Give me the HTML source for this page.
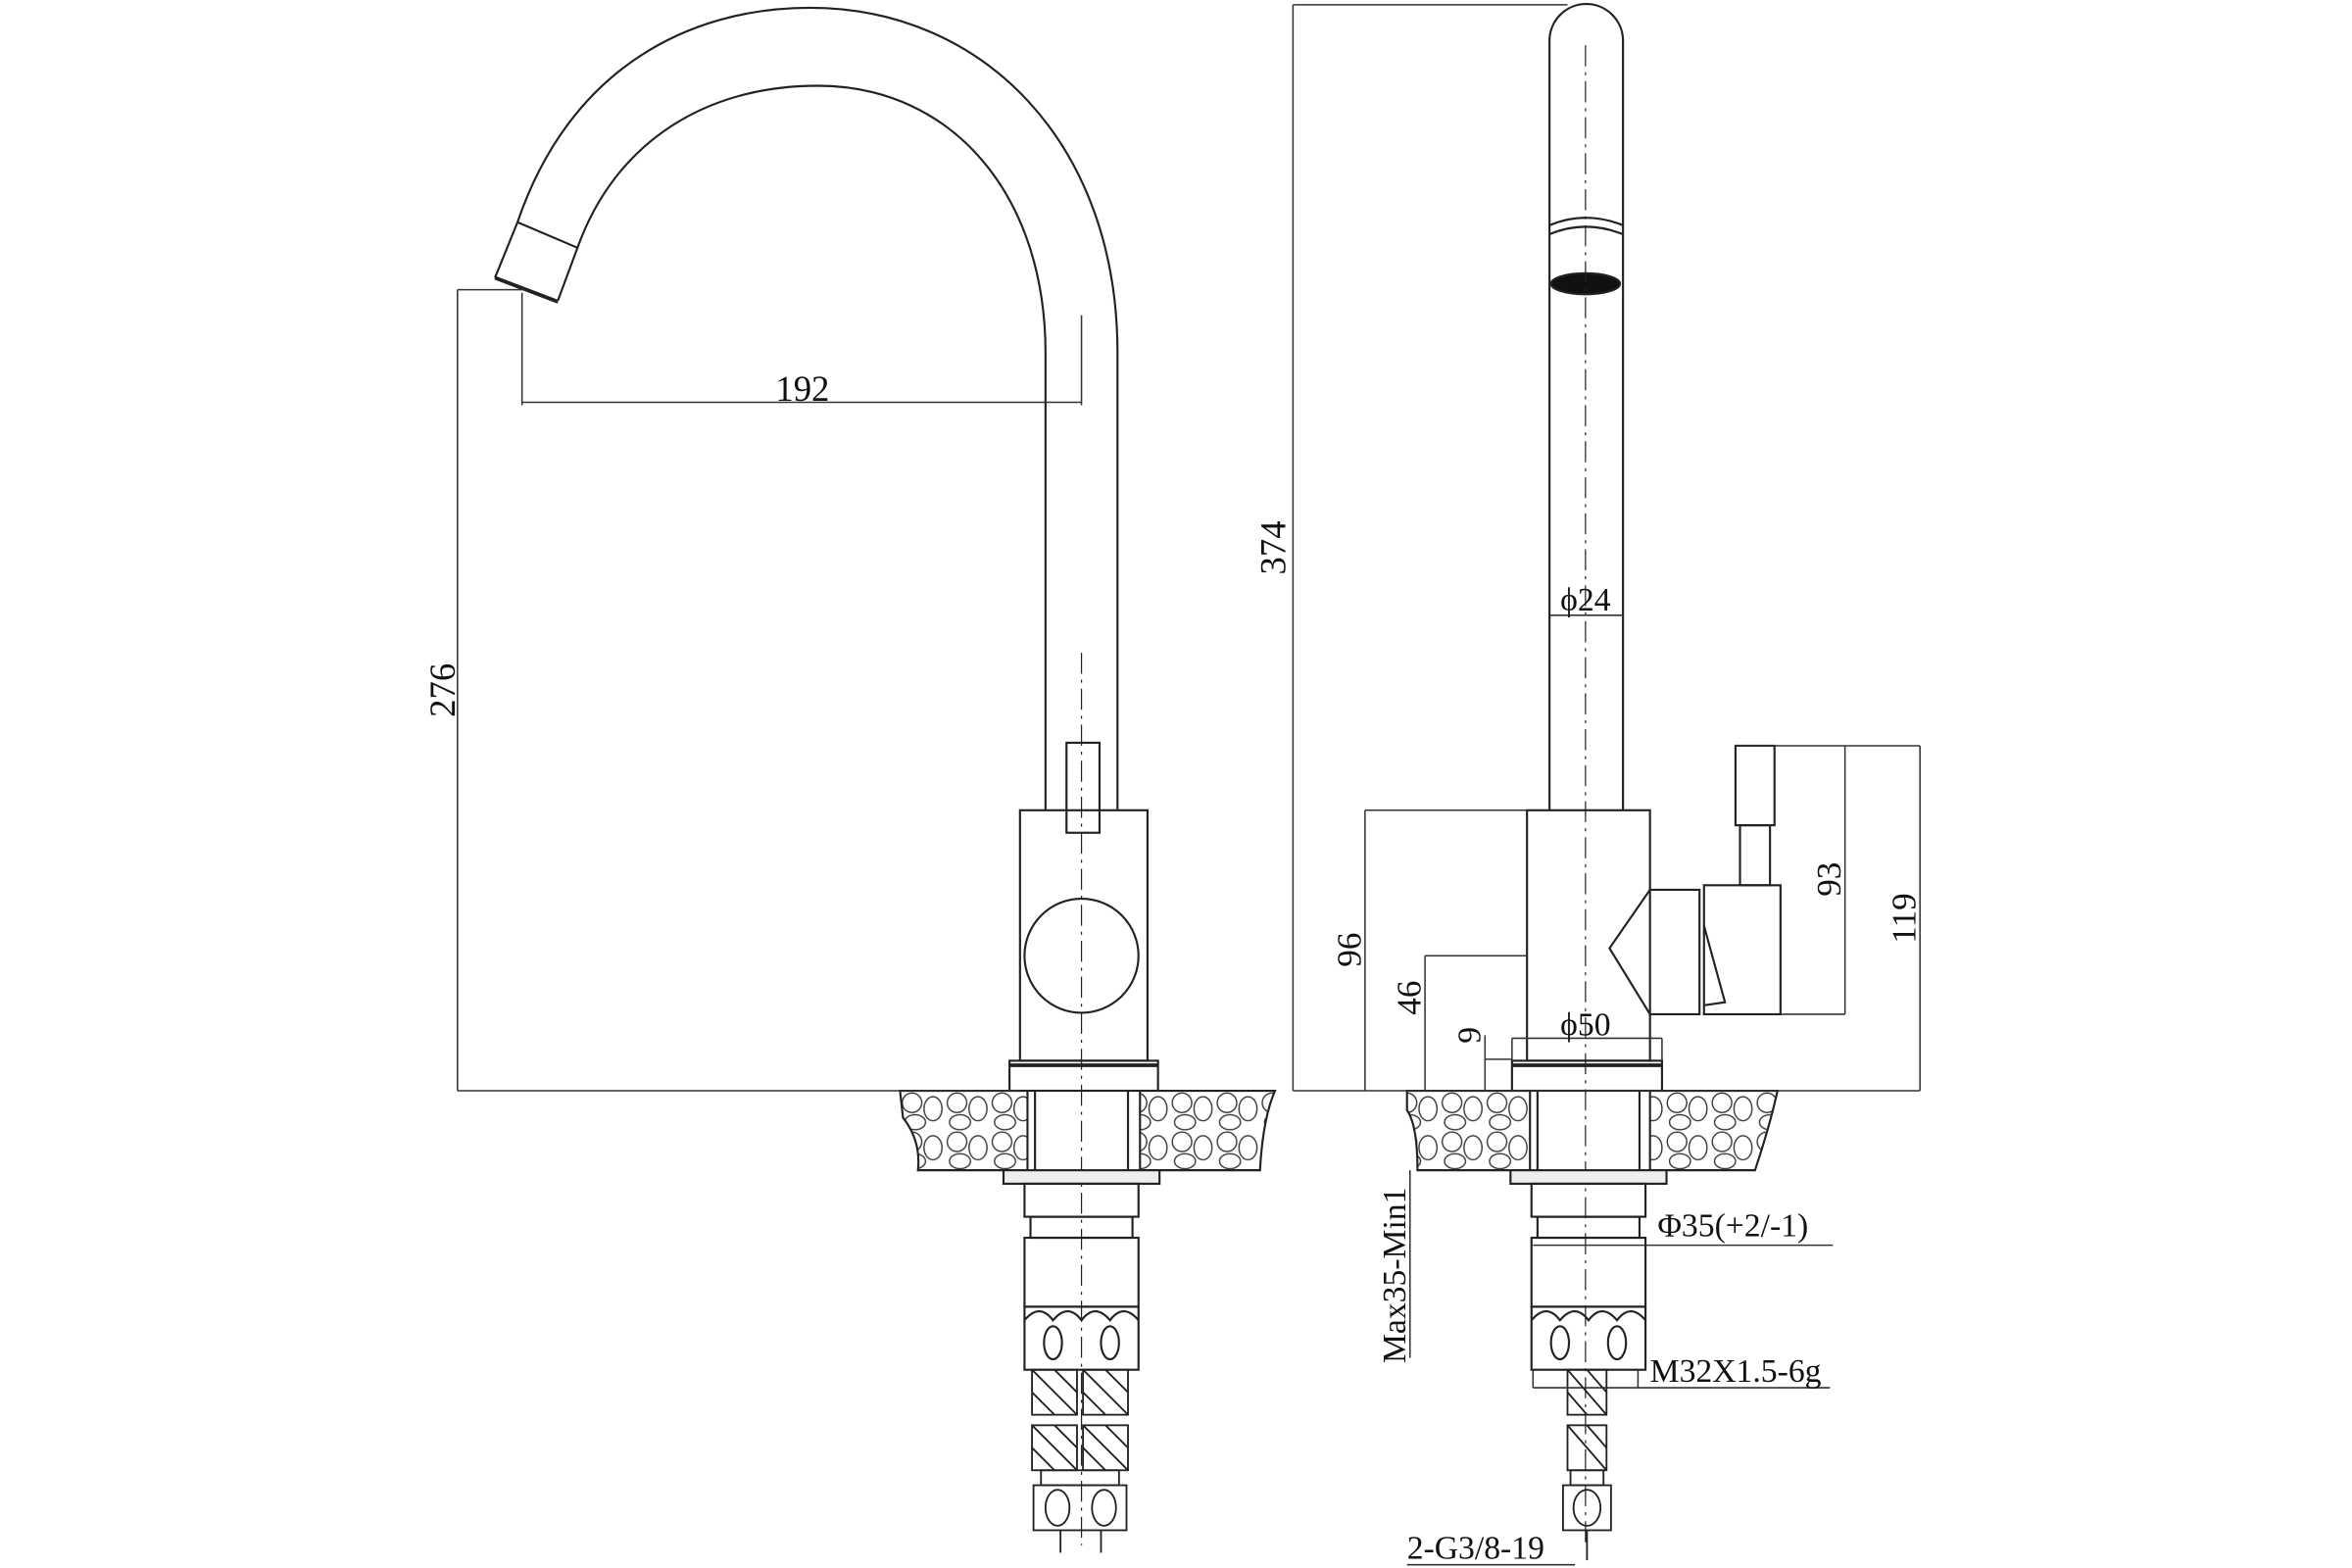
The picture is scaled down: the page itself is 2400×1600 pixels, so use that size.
<!DOCTYPE html>
<html><head><meta charset="utf-8"><style>
html,body{margin:0;padding:0;background:#fff;}
svg{display:block;}
text{font-family:"Liberation Serif",serif;fill:#111;}
</style></head><body>
<svg width="2400" height="1600" viewBox="0 0 1568 1045" xmlns="http://www.w3.org/2000/svg">
<defs>
<pattern id="stone" width="30" height="26" patternUnits="userSpaceOnUse">
<rect width="30" height="26" fill="#fff"/>
<ellipse cx="8" cy="7" rx="6.5" ry="6.5" fill="none" stroke="#333" stroke-width="0.9"/>
<ellipse cx="22" cy="11" rx="6" ry="8" fill="none" stroke="#333" stroke-width="0.9"/>
<ellipse cx="10" cy="20" rx="7" ry="5" fill="none" stroke="#333" stroke-width="0.9"/>
</pattern>
<g id="lower" fill="none" stroke="#222" stroke-width="1.4">
<rect x="-52" y="780" width="104" height="9" fill="#eee"/>
<rect x="-38" y="789" width="76" height="22"/>
<rect x="-34" y="811" width="68" height="14"/>
<rect x="-38" y="825" width="76" height="46"/>
<rect x="-38" y="871" width="76" height="42"/>
<path d="M-38 880 Q-28 868 -19 880 Q-9 868 0 880 Q9 868 19 880 Q28 868 38 880"/>
<ellipse cx="-19" cy="895" rx="6" ry="11"/>
<ellipse cx="19" cy="895" rx="6" ry="11"/>
</g>
</defs>

<g fill="none" stroke="#222" stroke-width="1.4">
<path d="M330 185 L345 148 C380 45 460 5 540 5 C655 5 745 95 745 235 L745 540"/>
<path d="M372 200 L385 165 C410 95 470 57 545 57 C635 57 697 130 697 235 L697 540"/>
<path d="M345 148 L385 165"/>
<path d="M330 185 L372 201" stroke-width="2.5"/>
<rect x="680" y="540" width="85" height="167"/>
<rect x="711" y="495" width="22" height="60"/>
<circle cx="721" cy="637" r="38"/>
<rect x="673" y="707" width="99" height="20"/>
<line x1="673" y1="710" x2="772" y2="710" stroke-width="2.5"/>
<line x1="721" y1="435" x2="721" y2="1030" stroke-width="0.8" stroke-dasharray="14 4 2 4"/>
<path d="M600 727 L685 727 L685 780 L612 780 Q614 760 602 745 Z" fill="url(#stone)"/>
<path d="M760 727 L850 727 Q842 745 840 780 L760 780 Z" fill="url(#stone)"/>
<line x1="690" y1="727" x2="690" y2="780"/><line x1="752" y1="727" x2="752" y2="780"/>
<g stroke-width="1.2">
<rect x="688" y="913" width="30" height="30"/><rect x="722" y="913" width="30" height="30"/>
<rect x="688" y="950" width="30" height="30"/><rect x="722" y="950" width="30" height="30"/>
<path d="M688 913 L718 943 M703 913 L718 928 M688 928 L703 943 M722 913 L752 943 M737 913 L752 928 M722 928 L737 943"/>
<path d="M688 950 L718 980 M703 950 L718 965 M688 965 L703 980 M722 950 L752 980 M737 950 L752 965 M722 965 L737 980"/>
<rect x="694" y="980" width="52" height="10"/>
<rect x="689" y="990" width="62" height="30"/>
<ellipse cx="705" cy="1005" rx="8" ry="12"/><ellipse cx="736" cy="1005" rx="8" ry="12"/>
<line x1="707" y1="1020" x2="707" y2="1035"/><line x1="734" y1="1020" x2="734" y2="1035"/>
</g>
</g>
<use href="#lower" x="721" y="0"/>

<g fill="none" stroke="#333" stroke-width="1">
<line x1="305" y1="193" x2="350" y2="193"/>
<line x1="305" y1="193" x2="305" y2="727"/>
<line x1="305" y1="727" x2="680" y2="727"/>
<line x1="348" y1="195" x2="348" y2="270"/>
<line x1="721" y1="210" x2="721" y2="270"/>
<line x1="348" y1="268" x2="721" y2="268"/>
</g>
<text x="535" y="267" font-size="24" text-anchor="middle">192</text>
<text transform="translate(303,460) rotate(-90)" font-size="24" text-anchor="middle">276</text>

<g fill="none" stroke="#222" stroke-width="1.4">
<path d="M1033 540 L1033 27 A24.5 24.5 0 0 1 1082 27 L1082 540"/>
<path d="M1033 150 Q1057 140 1082 150"/>
<path d="M1033 156 Q1057 146 1082 156"/>
<ellipse cx="1057" cy="189" rx="23" ry="7" fill="#111"/>
<line x1="1057" y1="30" x2="1057" y2="1030" stroke-width="0.8" stroke-dasharray="14 4 2 4"/>
<rect x="1018" y="540" width="82" height="167"/>
<path d="M1100 593 L1133 593 L1133 676 L1100 676 L1073 632 Z"/>
<rect x="1136" y="590" width="51" height="86" fill="#fff"/>
<path d="M1136 617 L1150 668 L1136 670"/>
<rect x="1157" y="497" width="26" height="53"/>
<rect x="1160" y="550" width="20" height="40"/>
<rect x="1008" y="707" width="100" height="20"/>
<line x1="1008" y1="710" x2="1108" y2="710" stroke-width="2.5"/>
<path d="M938 727 L1020 727 L1020 780 L945 780 Q945 750 938 740 Z" fill="url(#stone)"/>
<path d="M1100 727 L1185 727 Q1180 750 1170 780 L1100 780 Z" fill="url(#stone)"/>
<line x1="1025" y1="727" x2="1025" y2="780"/><line x1="1093" y1="727" x2="1093" y2="780"/>
<g stroke-width="1.2">
<rect x="1045" y="913" width="26" height="30"/>
<rect x="1045" y="950" width="26" height="30"/>
<path d="M1045 913 L1071 943 M1058 913 L1071 928 M1045 928 L1058 943 M1045 950 L1071 980 M1058 950 L1071 965"/>
<rect x="1047" y="980" width="22" height="10"/>
<rect x="1042" y="990" width="32" height="30"/>
<ellipse cx="1058" cy="1005" rx="9" ry="12"/>
<line x1="1058" y1="1020" x2="1058" y2="1040"/>
</g>
</g>
<use href="#lower" x="1059" y="0"/>

<g fill="none" stroke="#333" stroke-width="1">
<line x1="862" y1="3" x2="1045" y2="3"/>
<line x1="862" y1="3" x2="862" y2="727"/>
<line x1="862" y1="727" x2="1280" y2="727"/>
<line x1="910" y1="540" x2="1018" y2="540"/><line x1="910" y1="540" x2="910" y2="727"/>
<line x1="950" y1="637" x2="1018" y2="637"/><line x1="950" y1="637" x2="950" y2="727"/>
<line x1="990" y1="690" x2="990" y2="727"/><line x1="990" y1="706" x2="1008" y2="706"/>
<line x1="1008" y1="692" x2="1108" y2="692"/><line x1="1008" y1="692" x2="1008" y2="707"/><line x1="1108" y1="692" x2="1108" y2="707"/>
<line x1="1033" y1="410" x2="1082" y2="410"/>
<line x1="1157" y1="497" x2="1280" y2="497"/>
<line x1="1187" y1="676" x2="1230" y2="676"/>
<line x1="1230" y1="497" x2="1230" y2="676"/>
<line x1="1280" y1="497" x2="1280" y2="727"/>
<line x1="940" y1="780" x2="940" y2="905"/>
<line x1="1022" y1="830" x2="1222" y2="830"/>
<line x1="1022" y1="925" x2="1220" y2="925"/>
<line x1="1022" y1="913" x2="1022" y2="925"/><line x1="1092" y1="913" x2="1092" y2="925"/>
<line x1="938" y1="1043" x2="1050" y2="1043"/>
</g>
<text x="1057" y="407" font-size="22" text-anchor="middle">ϕ24</text>
<text x="1057" y="690" font-size="22" text-anchor="middle">ϕ50</text>
<text transform="translate(857,365) rotate(-90)" font-size="24" text-anchor="middle">374</text>
<text transform="translate(907,633) rotate(-90)" font-size="23" text-anchor="middle">96</text>
<text transform="translate(947,665) rotate(-90)" font-size="23" text-anchor="middle">46</text>
<text transform="translate(987,690) rotate(-90)" font-size="22" text-anchor="middle">9</text>
<text transform="translate(1227,586) rotate(-90)" font-size="23" text-anchor="middle">93</text>
<text transform="translate(1277,612) rotate(-90)" font-size="23" text-anchor="middle">119</text>
<text transform="translate(937,850) rotate(-90)" font-size="22" text-anchor="middle">Max35-Min1</text>
<text x="1105" y="824" font-size="22">Φ35(+2/-1)</text>
<text x="1100" y="921" font-size="22">M32X1.5-6g</text>
<text x="938" y="1039" font-size="22">2-G3/8-19</text>
</svg>
</body></html>
